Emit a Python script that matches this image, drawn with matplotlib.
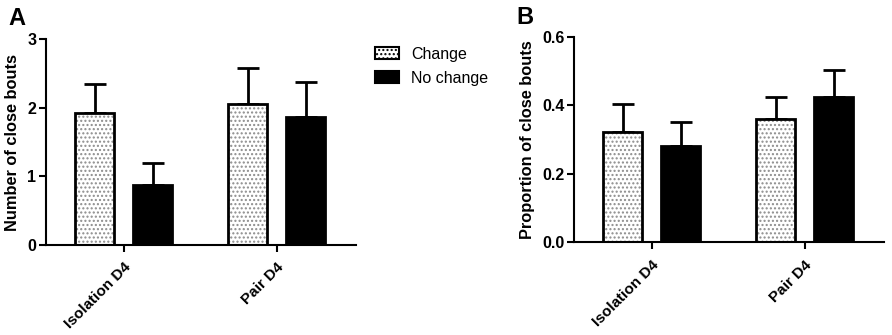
import matplotlib.pyplot as plt
from matplotlib.patches import Patch
import numpy as np

plt.rcParams['font.family'] = ['Liberation Sans', 'DejaVu Sans']

groups = ['Isolation D4', 'Pair D4']
series = ['Change', 'No change']

# panel A: number of close bouts (mean, SEM)
bouts_change = [1.93, 2.05]
bouts_change_err = [0.42, 0.53]
bouts_nochange = [0.875, 1.87]
bouts_nochange_err = [0.315, 0.50]

# panel B: proportion of close bouts
prop_change = [0.321, 0.360]
prop_change_err = [0.082, 0.064]
prop_nochange = [0.282, 0.424]
prop_nochange_err = [0.070, 0.079]

fig = plt.figure(figsize=(8.92, 3.35), dpi=100)
axA = fig.add_axes([0.0516, 0.2687, 0.3475, 0.614])
axB = fig.add_axes([0.6435, 0.2767, 0.3475, 0.6137])

x = np.arange(len(groups))
w = 0.255
off = 0.19


def draw(ax, ch, ch_err, nc, nc_err, ymax, yticks, yticklabels, ylabel):
    # dotted bars: hatch layer then black outline
    ax.bar(x - off, ch, w, color='white', edgecolor='0.55', hatch='....', linewidth=0, zorder=2)
    ax.bar(x - off, ch, w, fill=False, edgecolor='black', linewidth=2, zorder=3)
    ax.bar(x + off, nc, w, color='black', edgecolor='black', linewidth=2, zorder=3)
    ax.errorbar(x - off, ch, yerr=[np.zeros(2), ch_err], fmt='none', ecolor='black',
                elinewidth=2, capsize=8, capthick=2, zorder=1)
    ax.errorbar(x + off, nc, yerr=[np.zeros(2), nc_err], fmt='none', ecolor='black',
                elinewidth=2, capsize=8, capthick=2, zorder=1)
    ax.set_xlim(-0.51, 1.52)
    ax.set_ylim(0, ymax)
    ax.set_yticks(yticks)
    ax.set_yticklabels(yticklabels, fontsize=11.5, fontweight='bold')
    ax.set_xticks(x)
    ax.set_xticklabels(groups, rotation=45, ha='right', rotation_mode='anchor',
                       fontsize=11, fontweight='bold')
    ax.set_ylabel(ylabel, fontsize=11.8, fontweight='bold', labelpad=5)
    for s in ['top', 'right']:
        ax.spines[s].set_visible(False)
    for s in ['left', 'bottom']:
        ax.spines[s].set_linewidth(1.5)
    ax.tick_params(width=1.5, length=5, pad=2)
    ax.tick_params(axis='x', pad=6)


draw(axA, bouts_change, bouts_change_err, bouts_nochange, bouts_nochange_err,
     3, [0, 1, 2, 3], ['0', '1', '2', '3'], 'Number of close bouts')
draw(axB, prop_change, prop_change_err, prop_nochange, prop_nochange_err,
     0.6, [0.0, 0.2, 0.4, 0.6], ['0.0', '0.2', '0.4', '0.6'], 'Proportion of close bouts')

handles = [Patch(facecolor='white', edgecolor='black', hatch='....', linewidth=1.5),
           Patch(facecolor='black', edgecolor='black', linewidth=1.5)]
fig.legend(handles, series, loc='upper left', bbox_to_anchor=(0.4204, 0.86),
           frameon=False, fontsize=11.5, handlelength=1.5, handleheight=0.75,
           handletextpad=0.75, labelspacing=0.55, borderpad=0, borderaxespad=0)

fig.text(0.009, 0.978, 'A', fontsize=17, fontweight='bold', va='top')
fig.text(0.579, 0.983, 'B', fontsize=17, fontweight='bold', va='top')

fig.savefig('out.png', dpi=100)
